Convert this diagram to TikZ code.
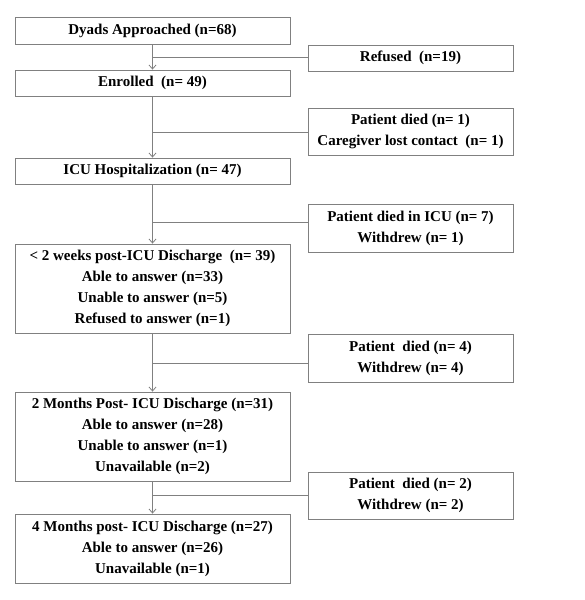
\documentclass[tikz,border=0pt]{standalone}
\usepackage{fontspec}
\setmainfont{Liberation Serif}
\usepackage{tikz}
\usetikzlibrary{arrows.meta}
\usetikzlibrary{calc}
\definecolor{linegray}{RGB}{128,128,128}
\tikzset{
	%	box/.style={rectangle,draw,minimum height=2em},
	box/.style={rectangle,draw=linegray,line width=0.8pt,align=center,inner sep=0pt,
		font=\fontsize{15}{21}\selectfont\bfseries},
	main box/.style={box,minimum width=275pt},
	side box/.style={box,minimum width=205pt},
	edge/.style={draw=linegray,line width=0.8pt,-{Straight Barb[length=4pt,width=7pt]}},
	branch/.style={draw=linegray,line width=0.8pt}
}
\begin{document}
\begin{tikzpicture}[x=1pt,y=-1pt]
	\useasboundingbox (0,0) rectangle (585,600);
	
	\node[main box,minimum height=27pt] (dyads) at (152.5, 30.5) {Dyads Approached (n=68)};
	\node[main box,minimum height=26pt] (enrolled) at (152.5, 83) {Enrolled~ (n= 49)};
	\node[main box,minimum height=26pt] (icu) at (152.5, 171) {ICU Hospitalization (n= 47)};
	\node[main box,minimum height=89pt] (wk2) at (152.5, 288.5) {< 2 weeks post-ICU Discharge~ (n= 39)\\Able to answer (n=33)\\Unable to answer (n=5)\\Refused to answer (n=1)};
	\node[main box,minimum height=89pt] (mo2) at (152.5, 436.5) {2 Months Post- ICU Discharge (n=31)\\Able to answer (n=28)\\Unable to answer (n=1)\\Unavailable (n=2)};
	\node[main box,minimum height=69pt] (mo4) at (152.5, 548.5) {4 Months post- ICU Discharge (n=27)\\Able to answer (n=26)\\Unavailable (n=1)};
	
	\node[side box,minimum height=26pt] (refused) at (410.5, 58) {Refused~ (n=19)};
	\node[side box,minimum height=47pt] (lost) at (410.5, 131.5) {Patient died (n= 1)\\Caregiver lost contact~ (n= 1)};
	\node[side box,minimum height=48pt] (icudied) at (410.5, 228) {Patient died in ICU (n= 7)\\Withdrew (n= 1)};
	\node[side box,minimum height=48pt] (died4) at (410.5, 358) {Patient~ died (n= 4)\\Withdrew (n= 4)};
	\node[side box,minimum height=47pt] (died2) at (410.5, 495.5) {Patient~ died (n= 2)\\Withdrew (n= 2)};
	
	\coordinate (j1) at (152.5, 57);
	\coordinate (j2) at (152.5, 132);
	\coordinate (j3) at (152.5, 222);
	\coordinate (j4) at (152.5, 363);
	\coordinate (j5) at (152.5, 495);
	
	\draw[edge] (dyads) to (enrolled);
	\draw[edge] (enrolled) to (icu);
	\draw[edge] (icu) to (wk2);
	\draw[edge] (wk2) to (mo2);
	\draw[edge] (mo2) to (mo4);
	
	\draw[branch] (j1) -- (j1 -| refused.west);
	\draw[branch] (j2) -- (j2 -| lost.west);
	\draw[branch] (j3) -- (j3 -| icudied.west);
	\draw[branch] (j4) -- (j4 -| died4.west);
	\draw[branch] (j5) -- (j5 -| died2.west);
\end{tikzpicture}
\end{document}
